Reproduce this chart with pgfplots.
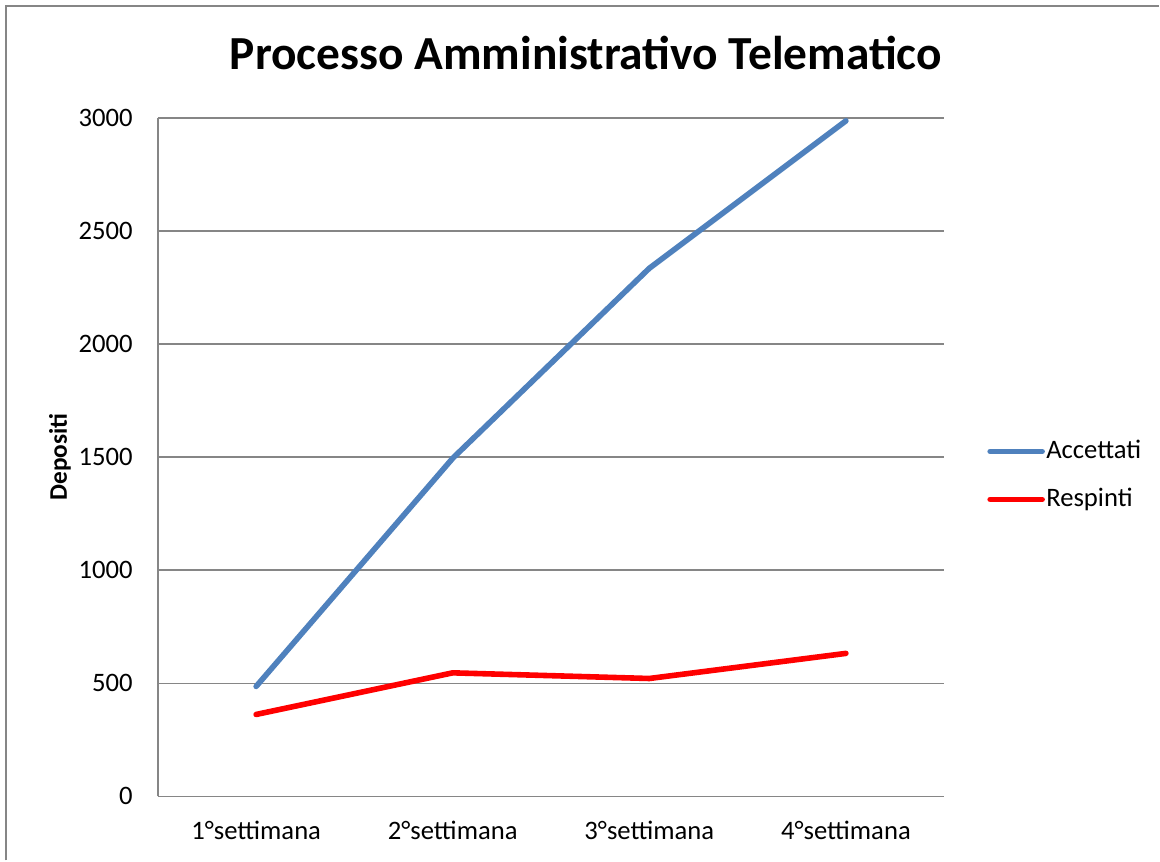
\documentclass[border=0pt]{standalone}
\usepackage{fontspec}
\setmainfont{Carlito}
\usepackage{pgfplots}
\pgfplotsset{compat=1.18}
\definecolor{accblue}{RGB}{79,129,189}
\definecolor{gridgray}{RGB}{134,134,134}
\begin{document}
\begin{tikzpicture}
\begin{axis}[
  scale only axis, width=590.25pt, height=509.25pt,
  clip=false,
  xmin=-0.5, xmax=3.5, ymin=0, ymax=3000,
  xtick={0,1,2,3},
  xticklabels={1°settimana,2°settimana,3°settimana,4°settimana},
  ytick={0,500,1000,1500,2000,2500,3000},
  /pgf/number format/assume math mode=true,
  /pgf/number format/1000 sep={},
  tick label style={font=\fontsize{20}{24}\selectfont},
  xticklabel style={anchor=base, yshift=-32.25pt},
  yticklabel style={anchor=east, inner sep=0pt, xshift=-18.75pt},
  major tick length=0pt,
  ymajorgrids, grid style={gridgray, line width=1.1pt},
  axis lines*=left,
  axis line style={gridgray, line width=1.1pt, -},
  title={\textbf{Processo Amministrativo Telematico}},
  title style={font=\fontsize{35.6}{40}\selectfont, at={(0.5445,1.084)}, anchor=center},
  ylabel={\textbf{Depositi}},
  ylabel style={font=\fontsize{19}{22}\selectfont, at={(axis description cs:-0.1245,0.5)}, anchor=center},
  legend style={draw=none, fill=none, at={(1.0546,0.473)}, anchor=west,
    inner sep=0pt, row sep=18pt,
    nodes={inner sep=0pt, text height=14pt, text depth=4pt, font=\fontsize{20}{24}\selectfont}},
  legend cell align=left,
  legend image code/.code={\draw[#1, line cap=round] (0pt,0pt) -- (39pt,0pt);},
]
\path (rel axis cs:-0.20076,-0.09426) rectangle (rel axis cs:1.27319,1.17378);
\draw[gridgray, line width=1.5pt] (rel axis cs:-0.19314,-0.09426) -- (rel axis cs:-0.19314,1.16495) -- (rel axis cs:1.27319,1.16495);
\addplot[accblue, line width=4.2pt, line cap=round] coordinates {(0,486) (1,1495) (2,2335) (3,2987)};
\addlegendentry{\hspace{1pt}Accettati}
\addplot[red, line width=4.2pt, line cap=round] coordinates {(0,362) (1,546) (2,521) (3,632)};
\addlegendentry{\hspace{1pt}Respinti}
\end{axis}
\end{tikzpicture}
\end{document}
